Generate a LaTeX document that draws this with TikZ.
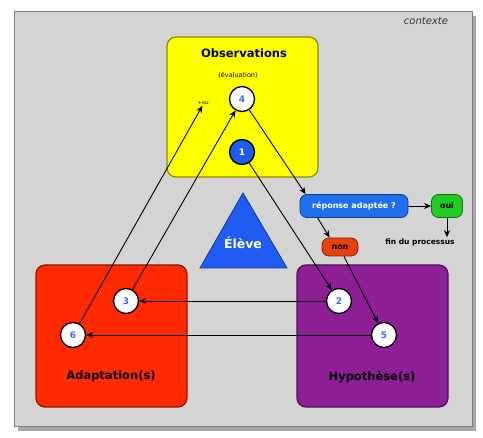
\documentclass[tikz,border=0pt]{standalone}
\usepackage{fontspec}
\setmainfont{DejaVu Sans}
\usetikzlibrary{arrows.meta}

\definecolor{ctxgray}{HTML}{D4D4D4}
\definecolor{obsyellow}{HTML}{FFFF00}
\definecolor{adared}{HTML}{FF2A00}
\definecolor{hyppurple}{HTML}{8E1E96}
\definecolor{elevblue}{HTML}{1E5CF2}
\definecolor{repblue}{HTML}{1F6FEF}
\definecolor{ouigreen}{HTML}{22CC22}
\definecolor{nonred}{HTML}{E8400E}
\definecolor{numblue}{HTML}{3A6FD8}

\begin{document}
\begin{tikzpicture}[x=1pt,y=-1pt,
	box/.style={draw=#1!55!black, fill=#1, rounded corners=9pt, line width=1.2pt},
	titre/.style={font=\bfseries\fontsize{11.5}{13}\selectfont},
	etape/.style={circle, draw=black, line width=1.3pt, fill=white, text=numblue, minimum size=25pt, inner sep=0pt, font=\bfseries\fontsize{9}{9}\selectfont},
	bulle/.style={draw=#1!55!black, fill=#1, rounded corners=7pt, line width=0.8pt, inner sep=2pt, font=\bfseries\fontsize{8}{9}\selectfont},
	fleche/.style={-{Stealth[length=7pt,width=6pt]}, line width=0.9pt}]
	\useasboundingbox (0,0) rectangle (483,438);

	% contexte
	\fill[gray!70] (18,16) rectangle (476,431);
	\draw[fill=ctxgray, draw=gray, line width=1pt] (14,12) rectangle (472,427);
	\node[font=\itshape\fontsize{10}{12}\selectfont, text=black!80] (ctx) at (426,21) {contexte};

	% les trois poles
	\draw[box=obsyellow] (167,37) rectangle (318,177);
	\draw[box=adared] (36,265) rectangle (187,407);
	\draw[box=hyppurple] (297,265) rectangle (448,407);
	\node[titre] (obs) at (244,53) {Observations};
	\node[titre] (ada) at (111,376) {Adaptation(s)};
	\node[titre] (hyp) at (372,377) {Hypothèse(s)};
	\node[font=\fontsize{6.5}{7}\selectfont] (eval) at (238,75) {(évaluation)};
	\node[font=\fontsize{5}{6}\selectfont, inner sep=1pt] (plusmoins) at (204,103) {+ou-};

	% eleve
	\draw[fill=elevblue, draw=elevblue!60!black, line width=0.8pt] (243,193) -- (287,268) -- (200,268) -- cycle;
	\node[text=white, font=\bfseries\fontsize{12.5}{14}\selectfont] (eleve) at (243,243) {Élève};

	% etapes
	\node[etape, fill=elevblue, text=white] (c1) at (242,152) {1};
	\node[etape] (c2) at (339,301) {2};
	\node[etape] (c3) at (126,301) {3};
	\node[etape] (c4) at (242,99) {4};
	\node[etape] (c5) at (384,335) {5};
	\node[etape] (c6) at (73,335) {6};

	% decision
	\node[bulle=repblue, text=white, minimum width=108pt, minimum height=23pt] (rep) at (354,206) {réponse adaptée ?};
	\node[bulle=ouigreen, minimum width=31pt, minimum height=23pt] (oui) at (447,206) {oui};
	\node[bulle=nonred, minimum width=36pt, minimum height=18pt] (non) at (340,247) {non};
	\node[font=\bfseries\fontsize{7.5}{9}\selectfont, inner sep=1pt] (fin) at (420,242) {fin du processus};

	\draw[fleche] (c1) -- (c2);
	\draw[fleche] (c2) -- (c3);
	\draw[fleche] (c3) -- (c4);
	\draw[fleche] (c4) -- ([xshift=6pt]rep.north west);
	\draw[fleche] (rep) -- (oui);
	\draw[fleche] (oui) -- (oui |- fin.north);
	\draw[fleche] ([xshift=18pt]rep.south west) -- ([xshift=8pt]non.north west);
	\draw[fleche] ([xshift=4pt]non.south) -- (c5);
	\draw[fleche] (c5) -- (c6);
	\draw[fleche] (c6) -- (plusmoins);
\end{tikzpicture}
\end{document}
